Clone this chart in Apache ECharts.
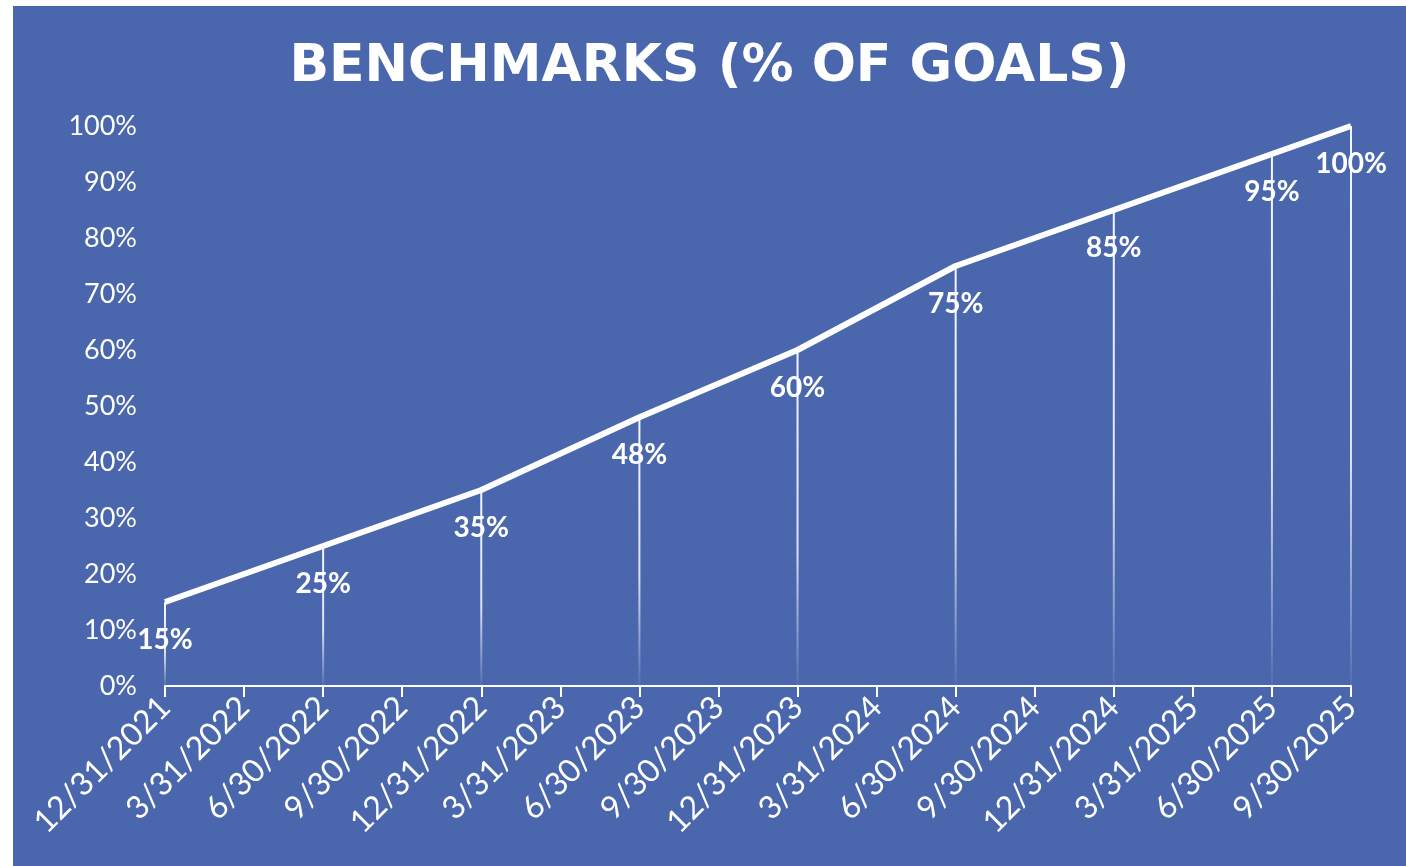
<!DOCTYPE html>
<html>
<head>
<meta charset="utf-8">
<script src="https://cdn.jsdelivr.net/npm/echarts@6/dist/echarts.min.js"></script>
<style>
  html, body { margin: 0; padding: 0; background: #fff; }
  #chart { position: absolute; left: 13px; top: 6px; width: 1393px; height: 860px; }
</style>
</head>
<body>
<div id="chart"></div>
<script>
// quarter-end dates on the x axis
var dates = [
  "12/31/2021", "3/31/2022", "6/30/2022", "9/30/2022",
  "12/31/2022", "3/31/2023", "6/30/2023", "9/30/2023",
  "12/31/2023", "3/31/2024", "6/30/2024", "9/30/2024",
  "12/31/2024", "3/31/2025", "6/30/2025", "9/30/2025"
];
// benchmark % per date (null = no benchmark that quarter)
var benchmarks = [15, null, 25, null, 35, null, 48, null, 60, null, 75, null, 85, null, 95, 100];

var fontFam = "Lato, 'Open Sans', sans-serif";

var chart = echarts.init(document.getElementById("chart"));
chart.setOption({
  backgroundColor: "#4A67AE",
  animation: false,
  title: {
    text: "BENCHMARKS (% OF GOALS)",
    left: "center",
    top: 30,
    textStyle: {
      color: "#fff",
      fontFamily: "'DejaVu Sans', sans-serif",
      fontWeight: "bold",
      fontSize: 52
    }
  },
  grid: {
    left: 152,
    right: 55,
    top: 120,
    bottom: 180
  },
  xAxis: {
    type: "category",
    data: dates,
    boundaryGap: false,
    axisLine: { lineStyle: { color: "#fff", width: 2 } },
    axisTick: { show: true, length: 11, lineStyle: { color: "#fff", width: 2 }, alignWithLabel: true },
    axisLabel: {
      color: "#fff",
      fontFamily: fontFam,
      fontSize: 32,
      rotate: 45,
      interval: 0,
      margin: 16
    },
    splitLine: { show: false }
  },
  yAxis: {
    type: "value",
    min: 0,
    max: 100,
    interval: 10,
    axisLine: { show: false },
    axisTick: { show: false },
    splitLine: { show: false },
    axisLabel: {
      color: "#fff",
      fontFamily: fontFam,
      fontSize: 27,
      margin: 28,
      formatter: "{value}%"
    }
  },
  series: [
    {
      // drop lines under each benchmark
      type: "bar",
      data: benchmarks,
      barWidth: 2,
      silent: true,
      z: 1,
      itemStyle: {
        color: new echarts.graphic.LinearGradient(0, 0, 0, 1, [
          { offset: 0, color: "rgba(255,255,255,0.95)" },
          { offset: 0.6, color: "rgba(255,255,255,0.8)" },
          { offset: 1, color: "rgba(255,255,255,0.05)" }
        ])
      }
    },
    {
      type: "line",
      data: benchmarks,
      connectNulls: true,
      showSymbol: true,
      symbol: "circle",
      symbolSize: 0,
      z: 3,
      itemStyle: { color: "#fff" },
      lineStyle: { color: "#fff", width: 6 },
      label: {
        show: true,
        position: "bottom",
        distance: 24,
        color: "#fff",
        fontFamily: fontFam,
        fontWeight: "bold",
        fontSize: 28,
        formatter: "{c}%"
      }
    }
  ]
});
</script>
</body>
</html>
